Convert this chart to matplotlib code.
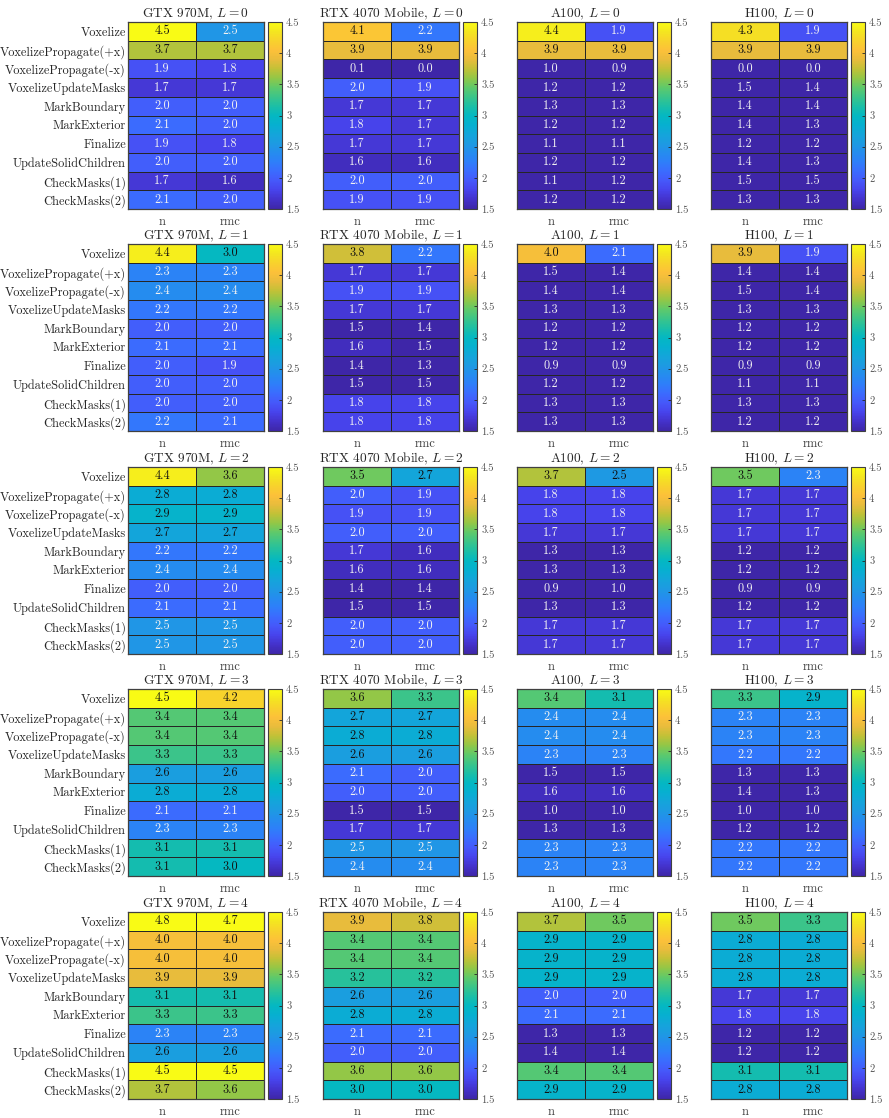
import numpy as np
import matplotlib
matplotlib.use("Agg")
import matplotlib.pyplot as plt
from matplotlib.colors import LinearSegmentedColormap, Normalize

plt.rcParams['font.family'] = ['cmr10', 'DejaVu Serif']
plt.rcParams['mathtext.fontset'] = 'cm'
plt.rcParams['axes.formatter.use_mathtext'] = True

kernels = ["Voxelize", "VoxelizePropagate(+x)", "VoxelizePropagate(-x)",
           "VoxelizeUpdateMasks", "MarkBoundary", "MarkExterior", "Finalize",
           "UpdateSolidChildren", "CheckMasks(1)", "CheckMasks(2)"]
variants = ["n", "rmc"]
gpus = ["GTX 970M", "RTX 4070 Mobile", "A100", "H100"]
levels = [0, 1, 2, 3, 4]

# values[gpu][L] = (n column, rmc column)
gtx_n = [[4.5, 3.7, 1.9, 1.7, 2.0, 2.1, 1.9, 2.0, 1.7, 2.1],
         [4.4, 2.3, 2.4, 2.2, 2.0, 2.1, 2.0, 2.0, 2.0, 2.2],
         [4.4, 2.8, 2.9, 2.7, 2.2, 2.4, 2.0, 2.1, 2.5, 2.5],
         [4.5, 3.4, 3.4, 3.3, 2.6, 2.8, 2.1, 2.3, 3.1, 3.1],
         [4.8, 4.0, 4.0, 3.9, 3.1, 3.3, 2.3, 2.6, 4.5, 3.7]]
gtx_rmc = [[2.5, 3.7, 1.8, 1.7, 2.0, 2.0, 1.8, 2.0, 1.6, 2.0],
           [3.0, 2.3, 2.4, 2.2, 2.0, 2.1, 1.9, 2.0, 2.0, 2.1],
           [3.6, 2.8, 2.9, 2.7, 2.2, 2.4, 2.0, 2.1, 2.5, 2.5],
           [4.2, 3.4, 3.4, 3.3, 2.6, 2.8, 2.1, 2.3, 3.1, 3.0],
           [4.7, 4.0, 4.0, 3.9, 3.1, 3.3, 2.3, 2.6, 4.5, 3.6]]
rtx_n = [[4.1, 3.9, 0.1, 2.0, 1.7, 1.8, 1.7, 1.6, 2.0, 1.9],
         [3.8, 1.7, 1.9, 1.7, 1.5, 1.6, 1.4, 1.5, 1.8, 1.8],
         [3.5, 2.0, 1.9, 2.0, 1.7, 1.6, 1.4, 1.5, 2.0, 2.0],
         [3.6, 2.7, 2.8, 2.6, 2.1, 2.0, 1.5, 1.7, 2.5, 2.4],
         [3.9, 3.4, 3.4, 3.2, 2.6, 2.8, 2.1, 2.0, 3.6, 3.0]]
rtx_rmc = [[2.2, 3.9, 0.0, 1.9, 1.7, 1.7, 1.7, 1.6, 2.0, 1.9],
           [2.2, 1.7, 1.9, 1.7, 1.4, 1.5, 1.3, 1.5, 1.8, 1.8],
           [2.7, 1.9, 1.9, 2.0, 1.6, 1.6, 1.4, 1.5, 2.0, 2.0],
           [3.3, 2.7, 2.8, 2.6, 2.0, 2.0, 1.5, 1.7, 2.5, 2.4],
           [3.8, 3.4, 3.4, 3.2, 2.6, 2.8, 2.1, 2.0, 3.6, 3.0]]
a100_n = [[4.4, 3.9, 1.0, 1.2, 1.3, 1.2, 1.1, 1.2, 1.1, 1.2],
          [4.0, 1.5, 1.4, 1.3, 1.2, 1.2, 0.9, 1.2, 1.3, 1.3],
          [3.7, 1.8, 1.8, 1.7, 1.3, 1.3, 0.9, 1.3, 1.7, 1.7],
          [3.4, 2.4, 2.4, 2.3, 1.5, 1.6, 1.0, 1.3, 2.3, 2.3],
          [3.7, 2.9, 2.9, 2.9, 2.0, 2.1, 1.3, 1.4, 3.4, 2.9]]
a100_rmc = [[1.9, 3.9, 0.9, 1.2, 1.3, 1.2, 1.1, 1.2, 1.2, 1.2],
            [2.1, 1.4, 1.4, 1.3, 1.2, 1.2, 0.9, 1.2, 1.3, 1.3],
            [2.54, 1.8, 1.8, 1.7, 1.3, 1.3, 1.0, 1.3, 1.7, 1.7],
            [3.1, 2.4, 2.4, 2.3, 1.5, 1.6, 1.0, 1.3, 2.3, 2.3],
            [3.5, 2.9, 2.9, 2.9, 2.0, 2.1, 1.3, 1.4, 3.4, 2.9]]
h100_n = [[4.3, 3.9, 0.0, 1.5, 1.4, 1.4, 1.2, 1.4, 1.5, 1.3],
          [3.9, 1.4, 1.5, 1.3, 1.2, 1.2, 0.9, 1.1, 1.3, 1.2],
          [3.5, 1.7, 1.7, 1.7, 1.2, 1.2, 0.9, 1.2, 1.7, 1.7],
          [3.3, 2.3, 2.3, 2.2, 1.3, 1.4, 1.0, 1.2, 2.2, 2.2],
          [3.5, 2.8, 2.8, 2.8, 1.7, 1.8, 1.2, 1.2, 3.1, 2.8]]
h100_rmc = [[1.9, 3.9, 0.0, 1.4, 1.4, 1.3, 1.2, 1.3, 1.5, 1.3],
            [1.9, 1.4, 1.4, 1.3, 1.2, 1.2, 0.9, 1.1, 1.3, 1.2],
            [2.3, 1.7, 1.7, 1.7, 1.2, 1.2, 0.9, 1.2, 1.7, 1.7],
            [2.9, 2.3, 2.3, 2.2, 1.3, 1.3, 1.0, 1.2, 2.2, 2.2],
            [3.3, 2.8, 2.8, 2.8, 1.7, 1.8, 1.2, 1.2, 3.1, 2.8]]

all_n = [gtx_n, rtx_n, a100_n, h100_n]
all_rmc = [gtx_rmc, rtx_rmc, a100_rmc, h100_rmc]

cbar_ticks = [1.5, 2, 2.5, 3, 3.5, 4, 4.5]
vmin, vmax = 1.5, 4.5

parula_anchors = [
    (0.000, (0.2422, 0.1504, 0.6603)),
    (0.050, (0.2650, 0.1950, 0.7950)),
    (0.100, (0.2790, 0.2650, 0.9250)),
    (0.150, (0.2720, 0.3450, 0.9800)),
    (0.200, (0.2300, 0.4200, 0.9970)),
    (0.250, (0.1800, 0.4950, 0.9800)),
    (0.300, (0.1450, 0.5500, 0.9350)),
    (0.350, (0.1150, 0.6050, 0.8850)),
    (0.400, (0.0750, 0.6480, 0.8550)),
    (0.450, (0.0250, 0.6900, 0.8150)),
    (0.500, (0.0150, 0.7200, 0.7600)),
    (0.550, (0.1100, 0.7480, 0.6500)),
    (0.600, (0.2300, 0.7700, 0.5400)),
    (0.650, (0.3700, 0.7900, 0.4200)),
    (0.700, (0.5700, 0.7800, 0.2800)),
    (0.750, (0.7600, 0.7570, 0.2150)),
    (0.800, (0.9100, 0.7370, 0.2350)),
    (0.850, (0.9900, 0.7560, 0.2250)),
    (0.900, (0.9720, 0.8230, 0.1740)),
    (0.950, (0.9570, 0.9030, 0.1250)),
    (1.000, (0.9769, 0.9839, 0.0805)),
]
parula = LinearSegmentedColormap.from_list("parula", parula_anchors, N=256)
norm = Normalize(vmin=vmin, vmax=vmax, clip=True)

W, H = 889, 1118
fig = plt.figure(figsize=(W / 100, H / 100), dpi=100)

heat_x = [128, 323, 517, 711]
heat_w = 136
row_top = [22, 244, 467, 689, 912]
heat_h = 187
cb_gap, cb_w = 4, 14
edge = '#262626'

def frac(x, top, w, h):
    return [x / W, 1 - (top + h) / H, w / W, h / H]

for r, L in enumerate(levels):
    for c, gpu in enumerate(gpus):
        data = np.column_stack([all_n[c][r], all_rmc[c][r]])
        ax = fig.add_axes(frac(heat_x[c], row_top[r], heat_w, heat_h))
        ax.pcolormesh(np.arange(3), np.arange(11), data, cmap=parula, norm=norm,
                      edgecolors=edge, linewidth=0.55)
        ax.set_xlim(0, 2)
        ax.set_ylim(10, 0)
        for i in range(10):
            for j in range(2):
                v = data[i, j]
                col = '#111111' if v > 2.52 else '#f2f2f2'
                ax.text(j + 0.5, i + 0.5, f"{v:.1f}", ha='center', va='center',
                        fontsize=8.8, color=col)
        ax.set_xticks([0.5, 1.5])
        ax.set_xticklabels(variants, fontsize=9, color='#404040')
        ax.tick_params(axis='both', length=0)
        ax.tick_params(axis='x', pad=5)
        if c == 0:
            ax.set_yticks(np.arange(10) + 0.5)
            ax.set_yticklabels(kernels, fontsize=8.9, color='#262626')
            ax.tick_params(axis='y', pad=1.5)
        else:
            ax.set_yticks([])
        for s in ax.spines.values():
            s.set_color('#404040')
            s.set_linewidth(0.9)
        ax.set_title(f"{gpu}, $L = {L}$", fontsize=9.6, pad=3.5, color='#262626')

        cax = fig.add_axes(frac(heat_x[c] + heat_w + cb_gap, row_top[r], cb_w, heat_h))
        cb = fig.colorbar(matplotlib.cm.ScalarMappable(norm=norm, cmap=parula), cax=cax)
        cb.set_ticks(cbar_ticks)
        cb.set_ticklabels([f"{t:g}" for t in cbar_ticks])
        cax.tick_params(labelsize=7.6, length=2, width=0.6, direction='in',
                        colors='#262626', labelcolor='#555555', pad=3)
        cb.outline.set_edgecolor('#404040')
        cb.outline.set_linewidth(0.8)

fig.savefig("out.png", dpi=100)
